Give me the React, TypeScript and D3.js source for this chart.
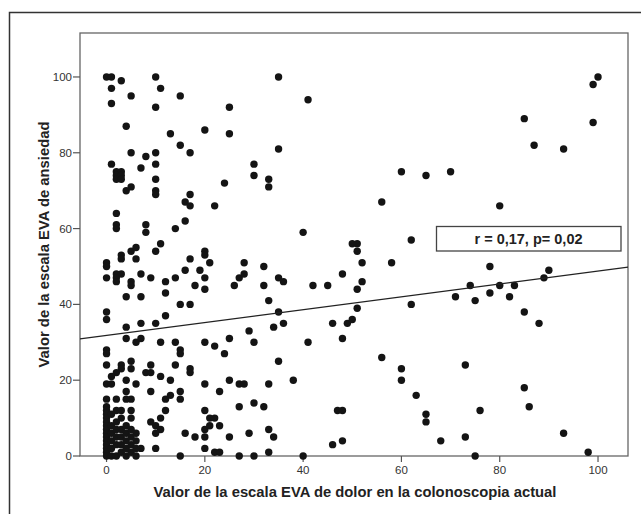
import React from "react";
import * as d3 from "d3";

// EVA dolor (x) vs EVA ansiedad (y)
const dolor = [
  0, 1, 3, 1, 5, 1, 10, 11, 10, 15, 25, 35, 41, 85, 100, 99, 99,
  4, 13, 20, 25, 15, 17, 5, 8, 10, 1, 10, 7, 2, 3, 2, 3, 2, 3, 10, 24, 4, 5, 10, 10, 17, 16, 17, 22, 2, 16,
  2, 2, 8, 8, 14, 5, 6, 6, 10, 11, 3, 3, 0, 0, 0, 2, 3, 2, 2, 5, 5, 7, 9, 12, 12, 14, 16, 17, 19, 20, 20, 21,
  20, 20, 18, 26, 27, 4, 7, 15, 17, 0, 0, 12, 4, 7, 10,
  4, 6, 7, 11, 14, 20, 22, 25, 24, 15, 15, 0, 0, 0, 3, 3, 2, 1, 5, 5, 9, 8, 9, 14, 17, 17, 11, 13, 4, 0, 1,
  6, 20, 25, 27, 23, 4, 5, 4, 9, 15, 15, 13, 12, 2, 27, 12, 20, 3, 5, 5, 9, 10, 11, 11, 10, 16, 18, 20, 21,
  22, 21, 23, 20, 25, 20, 22, 23, 10, 15, 27,
  0, 0, 0, 0, 0, 0, 0, 0, 0, 0, 0, 0, 0, 0, 0,
  1, 1, 1, 1, 1, 2, 2, 2, 2, 2, 2, 3, 3, 3, 3, 4, 4, 4, 4, 4, 5, 5, 5, 5, 6, 6, 6, 7, 6, 3, 1,
  30, 30, 33, 33, 35, 60, 65, 56, 40, 62, 50, 51, 51, 28, 32, 52, 58,
  28, 32, 35, 36, 42, 45, 48, 52, 51, 51, 33, 35, 62, 29, 30, 34, 36, 41, 46, 48, 49, 50, 35, 56, 60, 60,
  28, 33, 38, 63, 65, 65, 30, 32, 47, 48, 29, 33, 34, 46, 48, 30, 33, 40,
  87, 93, 70, 80, 78, 90, 89, 74, 80, 83, 71, 75, 78, 82, 85, 88, 73, 85, 86, 76, 93, 68, 73, 75, 98,
];
const ansiedad = [
  100, 100, 99, 97, 95, 93, 100, 97, 92, 95, 92, 100, 94, 89, 100, 98, 88,
  87, 85, 86, 85, 82, 80, 80, 79, 80, 77, 77, 76, 75, 75, 74, 74, 73, 73, 73, 72, 70, 71, 70, 69, 69, 67, 66, 66, 64, 62,
  61, 60, 61, 59, 60, 54, 55, 52, 54, 56, 53, 52, 51, 50, 47, 48, 48, 47, 46, 46, 45, 48, 47, 46, 43, 47, 49, 52, 49, 54, 53, 51,
  47, 44, 45, 45, 47, 42, 42, 40, 40, 38, 36, 37, 34, 35, 35,
  31, 30, 31, 30, 30, 30, 29, 31, 27, 28, 27, 28, 27, 24, 24, 23, 22, 21, 25, 23, 24, 22, 22, 24, 23, 22, 21, 20, 20, 19, 19,
  19, 19, 20, 19, 17, 17, 15, 15, 17, 17, 15, 16, 15, 15, 13, 12, 12, 10, 10, 12, 9, 8, 10, 7, 6, 6, 5, 7, 8,
  10, 10, 8, 5, 5, 2, 1, 1, 2, 0, 0,
  15, 13, 12, 11, 10, 9, 8, 7, 6, 5, 4, 3, 2, 1, 0,
  0, 2, 4, 6, 8, 0, 3, 5, 7, 9, 12, 1, 3, 5, 7, 0, 2, 4, 6, 8, 1, 3, 5, 7, 2, 4, 0, 2, 6, 12, 11,
  77, 74, 73, 71, 81, 75, 74, 67, 59, 57, 56, 56, 54, 51, 50, 51, 51,
  48, 45, 47, 46, 45, 45, 48, 46, 44, 39, 41, 38, 40, 33, 30, 34, 35, 30, 35, 31, 35, 36, 25, 26, 23, 20,
  19, 19, 20, 16, 11, 9, 14, 13, 12, 12, 6, 7, 5, 3, 4, 0, 1, 0,
  82, 81, 75, 66, 50, 49, 47, 45, 45, 45, 42, 41, 43, 42, 38, 35, 24, 18, 13, 12, 6, 4, 5, 0, 1,
];

const xTicks = [0, 20, 40, 60, 80, 100];
const yTicks = [0, 20, 40, 60, 80, 100];

// linear fit shown in the figure
const intercept = 31.8;
const slope = 0.17;
const statsLabel = "r = 0,17, p= 0,02";

const xTitle = "Valor de la escala EVA de dolor en la colonoscopia actual";
const yTitle = "Valor de la escala EVA de ansiedad";

const App = () => {
  const width = 641;
  const height = 514;
  const plot = { left: 80, right: 628, top: 33, bottom: 456 };

  const x = d3.scaleLinear().domain([-5.4, 106.1]).range([plot.left, plot.right]);
  const y = d3.scaleLinear().domain([0, 111.6]).range([plot.bottom, plot.top]);

  const points = dolor.map((d, i) => ({ x: d, y: ansiedad[i] }));
  const [x0, x1] = x.domain();
  const fitLine = d3
    .line<number>()
    .x((d) => x(d))
    .y((d) => y(intercept + slope * d))([x0, x1]);

  const font = "Arial, 'Liberation Sans', sans-serif";
  const ink = "#222";

  return (
    <svg
      width={width}
      height={height}
      style={{ position: "absolute", left: 0, top: 0, background: "#fff" }}
      fontFamily={font}
    >
      {/* outer frame */}
      <rect x={9.5} y={12.5} width={660} height={540} fill="none" stroke="#333" strokeWidth={1.5} />

      {/* plot area */}
      <rect
        x={plot.left}
        y={plot.top}
        width={plot.right - plot.left}
        height={plot.bottom - plot.top}
        fill="#fff"
        stroke="#666"
        strokeWidth={1.3}
      />

      {/* y axis ticks */}
      {yTicks.map((t) => (
        <g key={"y" + t}>
          <line x1={plot.left - 7} x2={plot.left} y1={y(t)} y2={y(t)} stroke="#555" strokeWidth={1.2} />
          <text x={plot.left - 8} y={y(t)} dy="0.35em" textAnchor="end" fontSize={11.5} fill="#333">
            {t}
          </text>
        </g>
      ))}

      {/* x axis ticks */}
      {xTicks.map((t) => (
        <g key={"x" + t}>
          <line x1={x(t)} x2={x(t)} y1={plot.bottom} y2={plot.bottom + 6} stroke="#555" strokeWidth={1.2} />
          <text x={x(t)} y={plot.bottom + 18} textAnchor="middle" fontSize={11.5} fill="#333">
            {t}
          </text>
        </g>
      ))}

      {/* points */}
      {points.map((p, i) => (
        <circle key={i} cx={x(p.x)} cy={y(p.y)} r={3.7} fill="#141414" />
      ))}

      {/* regression line */}
      <path d={fitLine ?? ""} fill="none" stroke="#222" strokeWidth={1.2} />

      {/* stats box */}
      <rect x={436.5} y={226.5} width={184.5} height={24.5} fill="#fff" stroke="#444" strokeWidth={1.3} />
      <text x={528.5} y={244} textAnchor="middle" fontSize={14.5} fontWeight="bold" fill={ink}>
        {statsLabel}
      </text>

      {/* axis titles */}
      <text x={(plot.left + plot.right) / 2 + 1} y={497} textAnchor="middle" fontSize={14.8} fontWeight="bold" fill={ink}>
        {xTitle}
      </text>
      <text
        transform={`translate(49, ${(plot.top + plot.bottom) / 2}) rotate(-90)`}
        textAnchor="middle"
        fontSize={14.8}
        fontWeight="bold"
        fill={ink}
      >
        {yTitle}
      </text>
    </svg>
  );
};

export default App;
